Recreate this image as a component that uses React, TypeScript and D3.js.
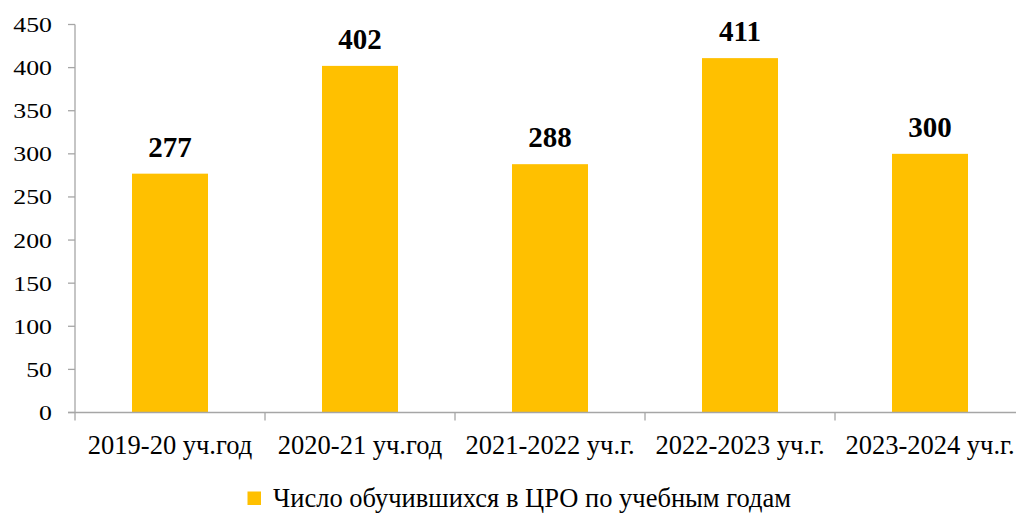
import { useEffect, useRef } from 'react';
import * as d3 from 'd3';

// Учебные годы и число обучившихся
const YEARS = ['2019-20 уч.год', '2020-21 уч.год', '2021-2022 уч.г.', '2022-2023 уч.г.', '2023-2024 уч.г.'];
const STUDENTS = [277, 402, 288, 411, 300];
const Y_TICKS = [0, 50, 100, 150, 200, 250, 300, 350, 400, 450];
const SERIES_NAME = 'Число обучившихся в ЦРО по учебным годам';

const W = 1016;
const H = 513;
const FONT = '"Liberation Serif", "Times New Roman", serif';
const BAR = '#FFC000';
const AXIS = '#A6A6A6';

export default function App() {
  const ref = useRef<SVGSVGElement>(null);

  useEffect(() => {
    if (!ref.current) return;
    const svg = d3.select(ref.current);
    svg.selectAll('*').remove();

    const left = 75;
    const right = 1025;
    const top = 24.5;
    const bottom = 412.5;

    const x = d3.scaleBand<string>().domain(YEARS).range([left, right]).padding(0);
    const y = d3.scaleLinear().domain([0, 450]).range([bottom, top]);
    const bw = x.bandwidth() * 0.4;

    // столбцы
    svg
      .append('g')
      .selectAll('rect')
      .data(YEARS)
      .join('rect')
      .attr('x', (d) => x(d)! + (x.bandwidth() - bw) / 2)
      .attr('y', (_d, i) => y(STUDENTS[i]))
      .attr('width', bw)
      .attr('height', (_d, i) => bottom - y(STUDENTS[i]))
      .attr('fill', BAR);

    // подписи значений
    svg
      .append('g')
      .selectAll('text')
      .data(YEARS)
      .join('text')
      .attr('x', (d) => x(d)! + x.bandwidth() / 2)
      .attr('y', (_d, i) => y(STUDENTS[i]) - 17)
      .attr('text-anchor', 'middle')
      .attr('font-family', FONT)
      .attr('font-weight', 'bold')
      .attr('font-size', 29)
      .attr('fill', '#000')
      .text((_d, i) => STUDENTS[i]);

    // ось Y
    const gy = svg.append('g');
    gy.append('line')
      .attr('x1', left)
      .attr('x2', left)
      .attr('y1', top)
      .attr('y2', bottom)
      .attr('stroke', AXIS)
      .attr('stroke-width', 1.3);
    gy.selectAll('line.tick')
      .data(Y_TICKS)
      .join('line')
      .attr('class', 'tick')
      .attr('x1', left - 7)
      .attr('x2', left)
      .attr('y1', (d) => y(d))
      .attr('y2', (d) => y(d))
      .attr('stroke', AXIS)
      .attr('stroke-width', 1.3);
    gy.selectAll('text')
      .data(Y_TICKS)
      .join('text')
      .attr('transform', (d) => `translate(52,${y(d) + 7.5}) scale(1.2,1)`)
      .attr('text-anchor', 'end')
      .attr('font-family', FONT)
      .attr('font-size', 21.5)
      .attr('fill', '#000')
      .text((d) => d);

    // ось X
    const gx = svg.append('g');
    gx.append('line')
      .attr('x1', left - 7)
      .attr('x2', right)
      .attr('y1', bottom)
      .attr('y2', bottom)
      .attr('stroke', AXIS)
      .attr('stroke-width', 1.3);
    const bounds = YEARS.map((d) => x(d)!).concat([right]);
    gx.selectAll('line.tick')
      .data(bounds)
      .join('line')
      .attr('class', 'tick')
      .attr('x1', (d) => d)
      .attr('x2', (d) => d)
      .attr('y1', bottom)
      .attr('y2', bottom + 8)
      .attr('stroke', AXIS)
      .attr('stroke-width', 1.3);
    gx.selectAll('text')
      .data(YEARS)
      .join('text')
      .attr('x', (d) => x(d)! + x.bandwidth() / 2)
      .attr('y', 454)
      .attr('text-anchor', 'middle')
      .attr('font-family', FONT)
      .attr('font-size', 26.5)
      .attr('fill', '#000')
      .text((d) => d);

    // легенда
    const lg = svg.append('g');
    lg.append('rect')
      .attr('x', 247.5)
      .attr('y', 491.5)
      .attr('width', 13.5)
      .attr('height', 13.5)
      .attr('fill', BAR);
    lg.append('text')
      .attr('x', 273)
      .attr('y', 506.5)
      .attr('font-family', FONT)
      .attr('font-size', 26.5)
      .attr('fill', '#000')
      .text(SERIES_NAME);
  }, []);

  return (
    <svg
      ref={ref}
      width={W}
      height={H}
      style={{ position: 'absolute', left: 0, top: 0, background: '#fff', display: 'block' }}
    />
  );
}
